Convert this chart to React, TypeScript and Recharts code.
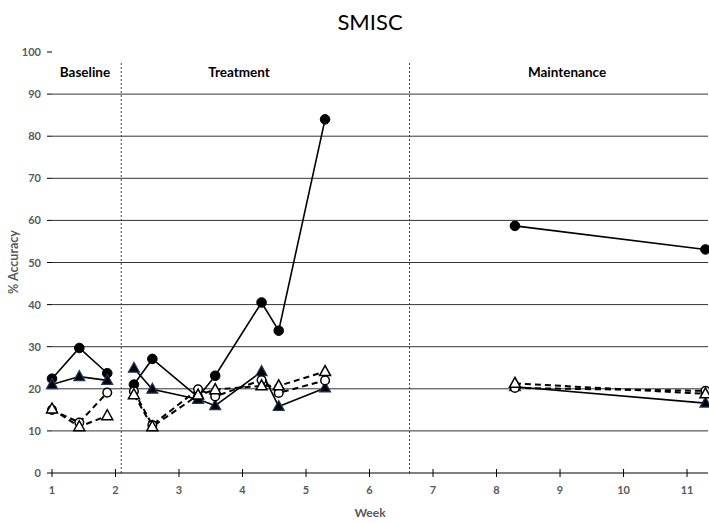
import React from 'react';
import { LineChart, Line, XAxis, YAxis, ReferenceLine } from 'recharts';

// ---- data ----
const weeks = [1, 1.43, 1.87, 2.29, 2.58, 3.3, 3.57, 4.3, 4.57, 5.3, 8.29, 11.29];
const phases = ['B', 'B', 'B', 'T', 'T', 'T', 'T', 'T', 'T', 'T', 'M', 'M'];
const seriesFilledCircle = [22.4, 29.7, 23.7, 21.0, 27.1, 18.0, 23.1, 40.5, 33.8, 84.0, 58.7, 53.1];
const seriesFilledTriangle = [21.0, 22.9, 22.0, 24.9, 19.9, 17.5, 16.0, 24.1, 15.8, 20.2, 20.5, 16.6];
const seriesOpenCircle = [15.0, 12.0, 19.1, 19.4, 11.4, 19.9, 18.2, 22.1, 19.0, 22.0, 20.2, 19.5];
const seriesOpenTriangle = [15.2, 11.0, 13.6, 18.6, 11.0, 18.5, 19.8, 20.7, 20.7, 24.1, 21.3, 18.8];
const phaseBoundaries = [2.09, 6.63];
const xTicks = [1, 2, 3, 4, 5, 6, 7, 8, 9, 10, 11];
const yTicks = [0, 10, 20, 30, 40, 50, 60, 70, 80, 90, 100];
const gridValues = [10, 20, 30, 40, 50, 60, 70, 80, 90];
const phaseLabels = ['Baseline', 'Treatment', 'Maintenance'];

// build table with null rows between phases so lines break
const table: any[] = [];
weeks.forEach((w, i) => {
  if (i > 0 && phases[i] !== phases[i - 1]) {
    table.push({ week: (w + weeks[i - 1]) / 2, a: null, b: null, c: null, d: null });
  }
  table.push({
    week: w,
    a: seriesFilledCircle[i],
    b: seriesFilledTriangle[i],
    c: seriesOpenCircle[i],
    d: seriesOpenTriangle[i],
  });
});

const FONT = "Lato, 'Liberation Sans', sans-serif";
const GRAY = '#595959';

const empty = (key: any) => <g key={key} />;

const FilledCircleDot = (p: any) => {
  if (p.value == null || p.cy == null) return empty(p.key ?? p.index);
  return <circle key={p.key ?? p.index} cx={p.cx} cy={p.cy} r={4.8} fill="#000" stroke="#000" strokeWidth={1} />;
};
const OpenCircleDot = (p: any) => {
  if (p.value == null || p.cy == null) return empty(p.key ?? p.index);
  return <circle key={p.key ?? p.index} cx={p.cx} cy={p.cy} r={4.3} fill="#fff" stroke="#000" strokeWidth={1.5} />;
};
const triPoints = (cx: number, cy: number) =>
  `${cx},${cy - 6} ${cx - 5.5},${cy + 4} ${cx + 5.5},${cy + 4}`;
const FilledTriangleDot = (p: any) => {
  if (p.value == null || p.cy == null) return empty(p.key ?? p.index);
  return <polygon key={p.key ?? p.index} points={triPoints(p.cx, p.cy)} fill="#000" stroke="#1F3864" strokeWidth={1.2} />;
};
const OpenTriangleDot = (p: any) => {
  if (p.value == null || p.cy == null) return empty(p.key ?? p.index);
  return <polygon key={p.key ?? p.index} points={triPoints(p.cx, p.cy)} fill="#fff" stroke="#000" strokeWidth={1.5} />;
};

const XTick = (props: any) => {
  const { x, y, payload } = props;
  return (
    <g>
      <line x1={x} x2={x} y1={y - 4} y2={y + 4} stroke="#000" strokeWidth={1} />
      <text x={x} y={y + 21} textAnchor="middle" fill={GRAY} fontSize={11} fontWeight="bold" fontFamily={FONT}>
        {payload.value}
      </text>
    </g>
  );
};

const YTick = (props: any) => {
  const { x, y, payload } = props;
  return (
    <text x={x} y={y} dy={4} textAnchor="end" fill={GRAY} fontSize={11} fontWeight="bold" fontFamily={FONT}>
      {payload.value}
    </text>
  );
};

const textStyle: React.CSSProperties = {
  position: 'absolute',
  fontFamily: FONT,
  whiteSpace: 'nowrap',
  lineHeight: 1,
};

export default function App() {
  return (
    <div style={{ position: 'absolute', left: 0, top: 0, width: 709, height: 523, background: '#fff' }}>
      <LineChart width={709} height={523} data={table} margin={{ top: 52, right: 1, left: 0, bottom: 20 }}>
        <XAxis
          type="number"
          dataKey="week"
          domain={[1, 11.33]}
          ticks={xTicks}
          interval={0}
          tickSize={0}
          tickMargin={0}
          tick={<XTick />}
          tickLine={false}
          axisLine={{ stroke: '#000', strokeWidth: 1 }}
          height={30}
        />
        <YAxis
          type="number"
          domain={[0, 100]}
          ticks={yTicks}
          interval={0}
          width={52}
          axisLine={false}
          tickLine={{ stroke: '#000', strokeWidth: 1 }}
          tickSize={5}
          tickMargin={6}
          tick={<YTick />}
        />
        {gridValues.map((v) => (
          <ReferenceLine key={'g' + v} y={v} stroke="#333" strokeWidth={1} />
        ))}
        {phaseBoundaries.map((xv) => (
          <ReferenceLine
            key={'p' + xv}
            segment={[{ x: xv, y: 0 }, { x: xv, y: 97.6 }]}
            stroke="#444"
            strokeWidth={1}
            strokeDasharray="2 2"
          />
        ))}
        <Line type="linear" dataKey="a" stroke="#000" strokeWidth={1.6} dot={FilledCircleDot} activeDot={false} isAnimationActive={false} />
        <Line type="linear" dataKey="b" stroke="#000" strokeWidth={1.6} dot={FilledTriangleDot} activeDot={false} isAnimationActive={false} />
        <Line type="linear" dataKey="c" stroke="#000" strokeWidth={2} strokeDasharray="6 4" dot={OpenCircleDot} activeDot={false} isAnimationActive={false} />
        <Line type="linear" dataKey="d" stroke="#000" strokeWidth={2} strokeDasharray="6 4" dot={OpenTriangleDot} activeDot={false} isAnimationActive={false} />
      </LineChart>

      <div style={{ ...textStyle, left: 370, top: 22, transform: 'translate(-50%, -50%)', fontSize: 22, color: '#000' }}>SMISC</div>
      <div style={{ ...textStyle, left: 85, top: 73, transform: 'translate(-50%, -50%)', fontSize: 13.5, fontWeight: 'bold', color: '#000' }}>{phaseLabels[0]}</div>
      <div style={{ ...textStyle, left: 239, top: 73, transform: 'translate(-50%, -50%)', fontSize: 13.5, fontWeight: 'bold', color: '#000' }}>{phaseLabels[1]}</div>
      <div style={{ ...textStyle, left: 567, top: 73, transform: 'translate(-50%, -50%)', fontSize: 13.5, fontWeight: 'bold', color: '#000' }}>{phaseLabels[2]}</div>
      <div style={{ ...textStyle, left: 14, top: 262, transform: 'translate(-50%, -50%) rotate(-90deg)', fontSize: 12.5, fontWeight: 'bold', color: GRAY }}>% Accuracy</div>
      <div style={{ ...textStyle, left: 370, top: 513, transform: 'translate(-50%, -50%)', fontSize: 12, fontWeight: 'bold', color: GRAY }}>Week</div>
    </div>
  );
}
